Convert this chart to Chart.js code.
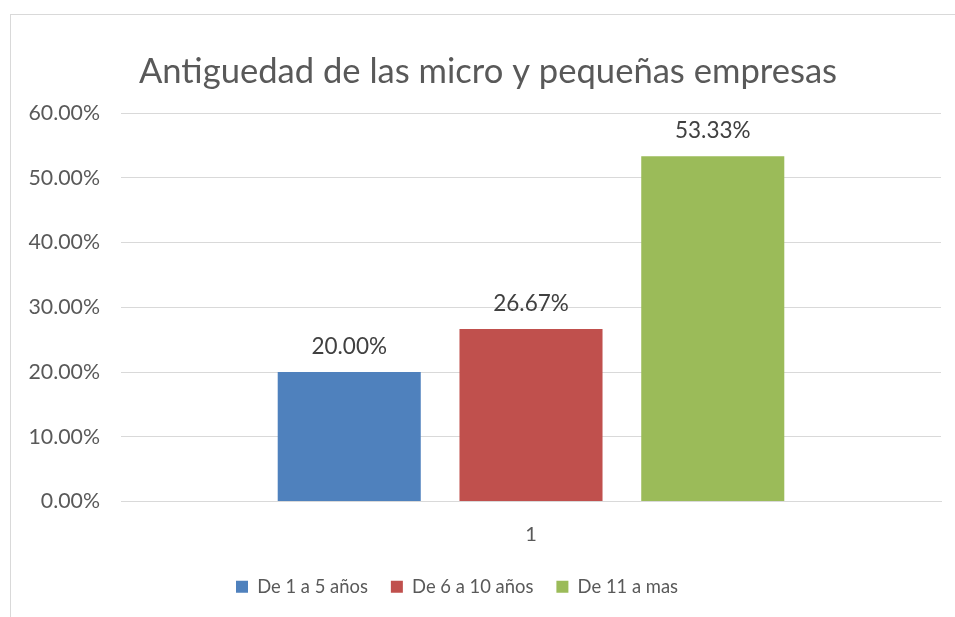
<!DOCTYPE html>
<html lang="es">
<head>
  <meta charset="UTF-8">
  <title>Antiguedad de las micro y pequeñas empresas</title>
  <script src="https://cdn.jsdelivr.net/npm/chart.js"></script>
  <style>
    html, body { margin: 0; padding: 0; background: #fff; overflow: hidden; }
    #frame {
      position: absolute; left: 10px; top: 14px;
      width: 960px; height: 620px;
      border: 1px solid #d9d9d9; background: #fff;
    }
    #chart { display: block; }
  </style>
</head>
<body>
  <div id="frame">
    <canvas id="chart" width="945" height="602"></canvas>
  </div>
<script>
  const categories = ['1'];
  const seriesNames = ['De 1 a 5 años', 'De 6 a 10 años', 'De 11 a mas'];
  const seriesValues = [[20.00], [26.67], [53.33]];
  const seriesColors = ['#4f81bd', '#c0504d', '#9bbb59'];
  const yTicks = [0, 10, 20, 30, 40, 50, 60];

  const FONT = 'Lato, "Open Sans", sans-serif';

  // etiquetas de valor encima de cada barra
  const barLabels = {
    id: 'barLabels',
    afterDatasetsDraw(chart) {
      const ctx = chart.ctx;
      ctx.save();
      ctx.font = '22.5px ' + FONT;
      ctx.fillStyle = '#404040';
      ctx.textAlign = 'center';
      ctx.textBaseline = 'middle';
      chart.data.datasets.forEach((ds, i) => {
        chart.getDatasetMeta(i).data.forEach((bar, j) => {
          ctx.fillText(ds.data[j].toFixed(2) + '%', bar.x, bar.y - 25);
        });
      });
      ctx.restore();
    }
  };

  // como en Excel: titulo un poco a la derecha, leyenda un poco a la izquierda
  const shiftBlocks = {
    id: 'shiftBlocks',
    afterLayout(chart) {
      if (chart.titleBlock) chart.titleBlock.right = 954 - chart.titleBlock.left;
      if (chart.legend) chart.legend.right = 892 - chart.legend.left;
    }
  };

  new Chart(document.getElementById('chart'), {
    type: 'bar',
    data: {
      labels: categories,
      datasets: seriesNames.map((name, i) => ({
        label: name,
        data: seriesValues[i],
        backgroundColor: seriesColors[i],
        categoryPercentage: 0.665,
        barPercentage: 0.787
      }))
    },
    options: {
      responsive: false,
      animation: false,
      layout: { padding: { left: 0, right: 15, top: 0, bottom: 11 } },
      plugins: {
        tooltip: { enabled: false },
        title: {
          display: true,
          text: 'Antiguedad de las micro y pequeñas empresas',
          color: '#595959',
          font: { family: FONT, size: 34.6, weight: 'normal' },
          padding: { top: 36.5, bottom: 20 }
        },
        legend: {
          position: 'bottom',
          labels: {
            color: '#595959',
            font: { family: FONT, size: 18.4 },
            boxWidth: 12,
            boxHeight: 12,
            padding: 23
          }
        }
      },
      scales: {
        x: {
          grid: { display: false, drawTicks: false },
          border: { color: '#d9d9d9', width: 1 },
          ticks: { color: '#595959', font: { family: FONT, size: 20 }, padding: 21 },
          afterFit(scale) { scale.height = 53; }
        },
        y: {
          min: 0,
          max: 60,
          afterBuildTicks(scale) { scale.ticks = yTicks.map(v => ({ value: v })); },
          grid: { color: '#d9d9d9', drawTicks: false },
          border: { display: false },
          ticks: {
            color: '#595959',
            font: { family: FONT, size: 21.3 },
            padding: 21,
            callback: v => v.toFixed(2) + '%'
          },
          afterFit(scale) { scale.width = 110; }
        }
      }
    },
    plugins: [barLabels, shiftBlocks]
  });
</script>
</body>
</html>
